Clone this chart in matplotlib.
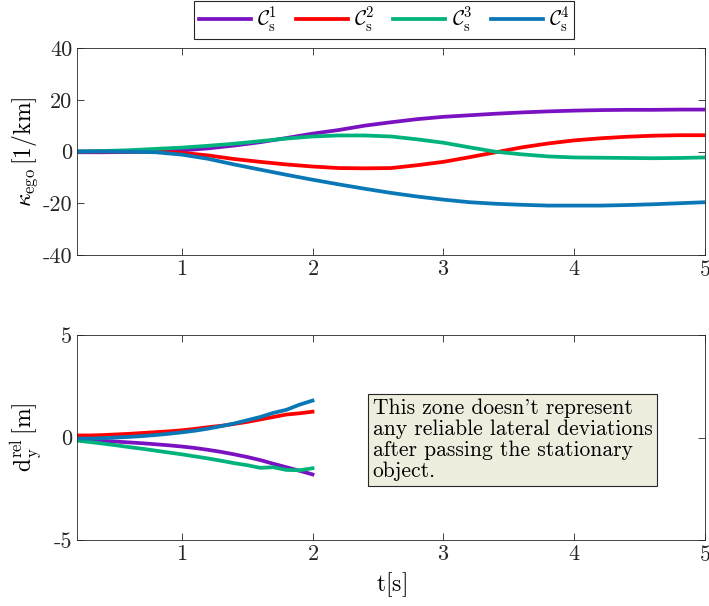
import matplotlib
matplotlib.use('Agg')
import matplotlib.pyplot as plt
import numpy as np

plt.rcParams['font.family'] = ['cmr10', 'DejaVu Serif']
plt.rcParams['mathtext.fontset'] = 'cm'
plt.rcParams['axes.formatter.use_mathtext'] = True
plt.rcParams['font.size'] = 15

# curvature of ego vehicle, top panel
t_top = [0.2, 0.4, 0.6, 0.8, 1.0, 1.2, 1.4, 1.6, 1.8, 2.0, 2.2, 2.4, 2.6,
         2.8, 3.0, 3.2, 3.4, 3.6, 3.8, 4.0, 4.2, 4.4, 4.6, 4.8, 5.0]
kappa_c1 = [-0.3, -0.3, -0.2, 0.0, 0.4, 1.2, 2.3, 3.6, 5.2, 6.9, 8.3, 10.0, 11.3,
            12.5, 13.4, 14.0, 14.6, 15.1, 15.5, 15.8, 16.0, 16.1, 16.1, 16.2, 16.2]
kappa_c2 = [0.0, 0.0, 0.0, -0.1, -0.5, -1.5, -2.9, -4.0, -5.0, -5.8, -6.4, -6.5, -6.4,
            -5.3, -4.0, -2.2, -0.3, 1.6, 3.1, 4.3, 5.1, 5.7, 6.1, 6.3, 6.3]
kappa_c3 = [0.0, 0.2, 0.5, 1.0, 1.5, 2.2, 3.0, 4.0, 5.0, 5.8, 6.2, 6.2, 5.8,
            4.7, 3.4, 1.6, -0.1, -1.1, -1.9, -2.3, -2.4, -2.5, -2.6, -2.5, -2.3]
kappa_c4 = [0.0, 0.0, -0.1, -0.3, -1.2, -2.8, -5.0, -7.0, -9.0, -10.9, -12.7, -14.4, -16.0,
            -17.4, -18.6, -19.6, -20.2, -20.6, -20.9, -20.9, -20.9, -20.7, -20.4, -20.0, -19.6]

# lateral deviation, bottom panel
t_bot = [0.2, 0.3, 0.4, 0.5, 0.6, 0.7, 0.8, 0.9, 1.0, 1.1, 1.2, 1.3, 1.4,
         1.5, 1.6, 1.7, 1.8, 1.9, 2.0]
dy_c1 = [-0.1, -0.13, -0.17, -0.2, -0.24, -0.28, -0.33, -0.38, -0.44, -0.51, -0.6, -0.7, -0.82,
         -0.95, -1.1, -1.28, -1.45, -1.62, -1.8]
dy_c2 = [0.1, 0.1, 0.12, 0.15, 0.18, 0.22, 0.26, 0.3, 0.35, 0.42, 0.5, 0.57, 0.66,
         0.76, 0.88, 1.0, 1.12, 1.18, 1.26]
dy_c3 = [-0.15, -0.22, -0.3, -0.38, -0.47, -0.55, -0.64, -0.73, -0.82, -0.92, -1.02, -1.13, -1.25,
         -1.35, -1.48, -1.45, -1.58, -1.6, -1.5]
dy_c4 = [-0.05, -0.05, -0.03, 0.0, 0.03, 0.07, 0.12, 0.18, 0.25, 0.33, 0.43, 0.55, 0.68,
         0.84, 1.0, 1.2, 1.35, 1.6, 1.8]

labels = [r'$\mathcal{C}_{\rm s}^{1}$', r'$\mathcal{C}_{\rm s}^{2}$',
          r'$\mathcal{C}_{\rm s}^{3}$', r'$\mathcal{C}_{\rm s}^{4}$']
colors = ['#7b12c2', '#ff0000', '#00b37d', '#0a78b6']

fig = plt.figure(figsize=(7.09, 6.06), dpi=100)
ax1 = fig.add_axes([0.1086, 0.5792, 0.8858, 0.3416])
ax2 = fig.add_axes([0.1086, 0.1089, 0.8858, 0.3383])

lines = []
for k, c, lab in zip([kappa_c1, kappa_c2, kappa_c3, kappa_c4], colors, labels):
    ln, = ax1.plot(t_top, k, color=c, lw=2.7, label=lab)
    lines.append(ln)
for d, c in zip([dy_c1, dy_c2, dy_c3, dy_c4], colors):
    ax2.plot(t_bot, d, color=c, lw=2.7)

for ax in (ax1, ax2):
    ax.set_xlim(0.2, 5)
    ax.set_xticks([1, 2, 3, 4, 5])
    ax.tick_params(direction='in', top=True, right=True, length=5, width=0.6,
                   colors='#262626', labelcolor='#262626', labelsize=16)
    for s in ax.spines.values():
        s.set_color('#262626')
        s.set_linewidth(0.6)

ax1.set_ylim(-40, 40)
ax1.set_yticks([-40, -20, 0, 20, 40])
ax1.set_yticklabels(['-40', '-20', '0', '20', '40'])
ax1.set_ylabel(r'$\kappa_{\rm ego}\,[1/{\rm km}]$', fontsize=17, labelpad=2)

ax2.set_ylim(-5, 5)
ax2.set_yticks([-5, 0, 5])
ax2.set_yticklabels(['-5', '0', '5'])
ax2.set_ylabel(r'$\mathrm{d_y^{rel}}\,[\mathrm{m}]$', fontsize=17, labelpad=8)
ax2.set_xlabel(r'$\mathrm{t[s]}$', fontsize=17, labelpad=4)

ax2.text(2.46, 1.9, "This zone doesn't represent\nany reliable lateral deviations\n"
         "after passing the stationary\nobject.", fontsize=15.5, va='top', ha='left',
         linespacing=1.1,
         bbox=dict(boxstyle='square,pad=0.2', facecolor='#efeddd', edgecolor='#262626', lw=0.8))

leg = fig.legend(handles=lines, loc='center', bbox_to_anchor=(0.542, 0.967), ncol=4,
                 fancybox=False, edgecolor='#262626', handlelength=2.5, columnspacing=0.9,
                 handletextpad=0.3, borderpad=0.2, fontsize=15, framealpha=1)
leg.get_frame().set_linewidth(0.8)

fig.savefig('out.png', dpi=100)
